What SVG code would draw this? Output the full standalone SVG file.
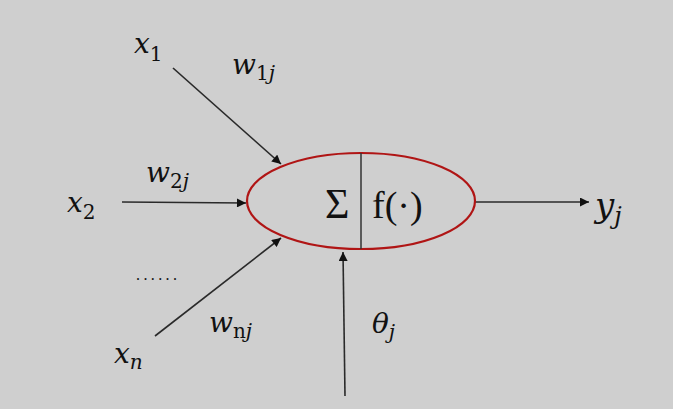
<svg xmlns="http://www.w3.org/2000/svg" width="673" height="409" viewBox="0 0 673 409">
<defs>
<style>
.m{font-family:"DejaVu Serif","Liberation Serif",serif;font-style:italic;fill:#111;font-size:28px}
.s{font-size:20px}
.n{font-style:normal}
.u{font-family:"Liberation Serif","DejaVu Serif",serif;font-style:normal;fill:#111}
.c{stroke:#2a2a2a;stroke-width:1.6;fill:none;marker-end:url(#ah)}
</style>
<marker id="ah" viewBox="0 0 10 10" refX="10" refY="5" markerWidth="10" markerHeight="9" markerUnits="userSpaceOnUse" orient="auto">
<path d="M0,0 L10,5 L0,10 Z" fill="#111"/>
</marker>
</defs>
<rect width="673" height="409" fill="#cfcfcf"/>
<g id="connectors">
<line class="c" x1="173" y1="68" x2="281" y2="164"/>
<line class="c" x1="122" y1="202" x2="246" y2="203"/>
<line class="c" x1="155" y1="336" x2="281" y2="238"/>
<line class="c" x1="345" y1="396" x2="343" y2="252"/>
<line class="c" x1="475" y1="202" x2="589" y2="202"/>
</g>
<g id="neuron">
<ellipse cx="361" cy="201" rx="114" ry="48" fill="none" stroke="#b01515" stroke-width="2.2"/>
<line x1="361" y1="153" x2="361" y2="249" stroke="#333" stroke-width="1.5"/>
<text class="u" x="325" y="218" font-size="42">Σ</text>
<text class="u" x="372" y="218" font-size="38">f(·)</text>
</g>
<g id="x1">
<text class="m" x="134" y="53">x<tspan class="s n" dy="8">1</tspan></text>
</g>
<g id="w1j">
<text class="m" x="232" y="74">w<tspan class="s n" dy="6">1</tspan><tspan class="s">j</tspan></text>
</g>
<g id="x2">
<text class="m" x="67" y="212">x<tspan class="s n" dy="7">2</tspan></text>
</g>
<g id="w2j">
<text class="m" x="146" y="182">w<tspan class="s n" dy="6">2</tspan><tspan class="s">j</tspan></text>
</g>
<g id="dots">
<text class="u" x="136" y="280" font-size="16" letter-spacing="3.4">......</text>
</g>
<g id="xn">
<text class="m" x="114" y="363">x<tspan class="s" dy="6">n</tspan></text>
</g>
<g id="wnj">
<text class="m" x="209" y="332">w<tspan class="s n" dy="6">n</tspan><tspan class="s">j</tspan></text>
</g>
<g id="theta">
<text class="m" x="372" y="333" font-size="26">θ<tspan class="s" dy="6">j</tspan></text>
</g>
<g id="yj">
<text class="m" x="595" y="217" style="font-size:34px">y<tspan style="font-size:24px" dy="7">j</tspan></text>
</g>
</svg>
